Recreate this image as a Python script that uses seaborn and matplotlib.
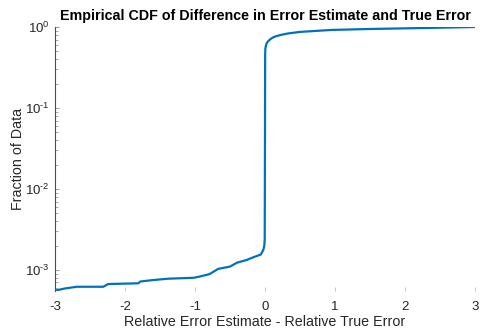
import numpy as np
import pandas as pd
import seaborn as sns
import matplotlib
matplotlib.use("Agg")
import matplotlib.pyplot as plt
from matplotlib.ticker import LogLocator, FixedLocator, FuncFormatter

# Data (empirical CDF)
diff_values = [-3.0, -2.86, -2.69, -2.31, -2.24, -1.81, -1.78, -1.6, -1.38, -1.02, -0.93,
               -0.79, -0.67, -0.5, -0.40, -0.26, -0.17, -0.06, -0.024, -0.01, -0.004,
               0.0, 0.002, 0.006, 0.02, 0.04, 0.07, 0.11, 0.16, 0.23, 0.32, 0.5, 0.95,
               1.5, 1.93, 2.5, 3.0]
cdf_values = [5.55e-4, 5.9e-4, 6.2e-4, 6.2e-4, 6.7e-4, 6.84e-4, 7.2e-4, 7.5e-4, 7.8e-4, 8.0e-4, 8.3e-4,
              8.9e-4, 1.03e-3, 1.1e-3, 1.23e-3, 1.33e-3, 1.43e-3, 1.55e-3, 1.77e-3, 2.0e-3, 2.4e-3,
              0.05, 0.45, 0.55, 0.62, 0.66, 0.70, 0.74, 0.77, 0.80, 0.83, 0.87, 0.92,
              0.945, 0.96, 0.98, 1.0]
x_ticks = [-3, -2, -1, 0, 1, 2, 3]

df = pd.DataFrame({"diff": diff_values, "cdf": cdf_values})

sns.set_theme(style="white")
plt.rcParams["font.family"] = ["Liberation Sans", "DejaVu Sans"]
plt.rcParams["mathtext.fontset"] = "custom"
plt.rcParams["mathtext.rm"] = "Liberation Sans"
plt.rcParams["axes.unicode_minus"] = False

fig = plt.figure(figsize=(4.91, 3.30), dpi=100)
ax = fig.add_axes([55/491, 1 - 291/330, 420/491, 264/330])

sns.lineplot(data=df, x="diff", y="cdf", ax=ax, color="#0072BD", linewidth=1.6, sort=False)

ax.set_yscale("log")
ax.set_xlim(-3, 3)
ax.set_ylim(10**-3.26, 1.0)
ax.xaxis.set_major_locator(FixedLocator(x_ticks))
ax.yaxis.set_major_locator(LogLocator(base=10, numticks=10))
ax.yaxis.set_minor_locator(LogLocator(base=10, subs=np.arange(2, 10) * 1.0, numticks=10))


def log_fmt(v, pos):
    e = int(round(np.log10(v)))
    if e < 0:
        return r"$10^{\text{-}%d}$" % (-e)
    return r"$10^{%d}$" % e


ax.yaxis.set_major_formatter(FuncFormatter(log_fmt))

for s in ["top", "right", "bottom"]:
    ax.spines[s].set_visible(False)
ax.spines["left"].set_color("#4d4d4d")
ax.spines["left"].set_linewidth(0.8)

ax.tick_params(axis="both", which="major", direction="in", length=3, width=0.6,
               colors="#262626", labelsize=9.5, labelcolor="#262626",
               bottom=True, left=True)
ax.tick_params(axis="x", which="major", color="#bbbbbb", pad=7)
ax.tick_params(axis="y", which="minor", direction="in", length=2, width=0.5,
               color="#888888", left=True)
ax.tick_params(axis="y", which="major", color="#888888", pad=4)

ax.set_xlabel("Relative Error Estimate - Relative True Error", fontsize=10.3, color="#262626", labelpad=2)
ax.set_ylabel("Fraction of Data", fontsize=10.3, color="#262626")
ax.yaxis.set_label_coords((25 - 55) / 420, 0.5)
ax.set_title("Empirical CDF of Difference in Error Estimate and True Error",
             fontsize=10.3, fontweight="bold", color="black", pad=5)

fig.savefig("out.png", dpi=100, facecolor="white")
